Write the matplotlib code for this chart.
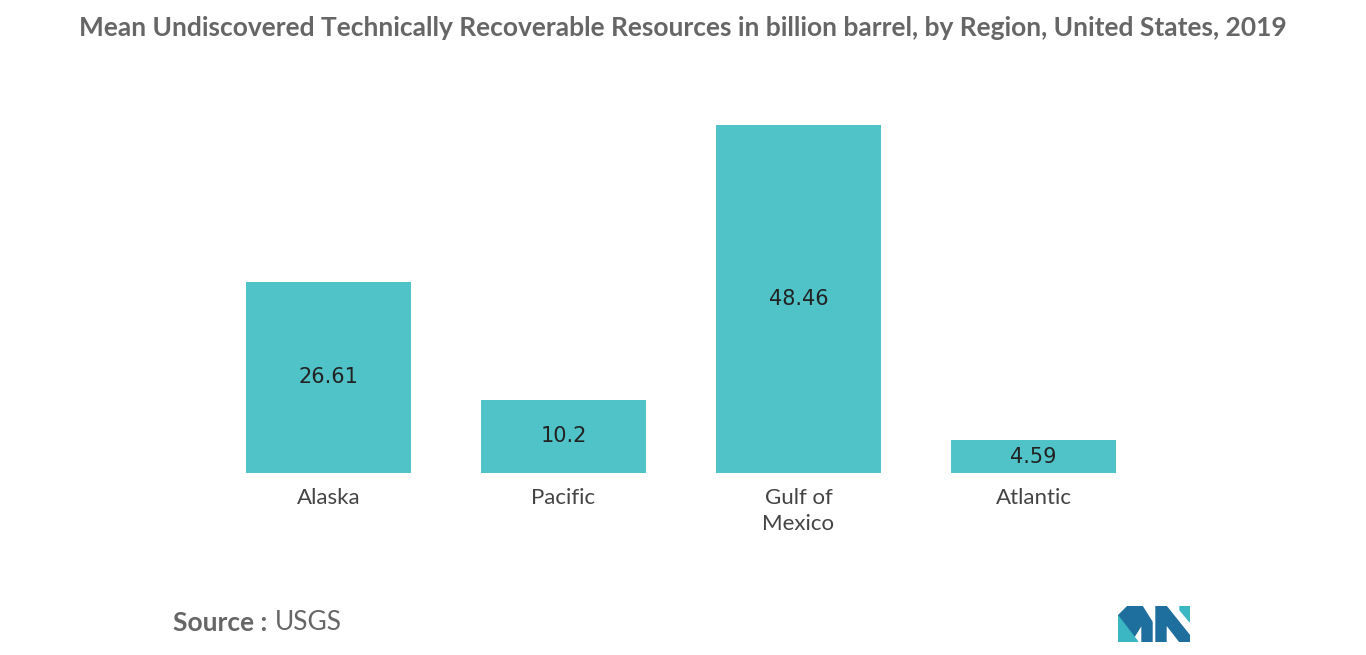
import matplotlib.pyplot as plt
from matplotlib.patches import Polygon

regions = ['Alaska', 'Pacific', 'Gulf of\nMexico', 'Atlantic']
values = [26.61, 10.2, 48.46, 4.59]
value_labels = ['26.61', '10.2', '48.46', '4.59']

plt.rcParams['font.family'] = ['Lato', 'DejaVu Sans']

fig = plt.figure(figsize=(13.66, 6.55), dpi=100)
ax = fig.add_axes([211 / 1366, 1 - 473 / 655, 940 / 1366, 348 / 655])

ax.bar(range(len(values)), values, width=165 / 235, color='#4fc3c8')
for i, (v, lab) in enumerate(zip(values, value_labels)):
    ax.text(i, v / 2, lab, ha='center', va='center', fontsize=15,
            color='#222222', family='DejaVu Sans')

ax.set_xlim(-0.5, 3.5)
ax.set_ylim(0, 48.46)
ax.set_yticks([])
ax.set_xticks(range(len(regions)))
ax.set_xticklabels(regions, fontsize=16, color='#444444', linespacing=1.35)
ax.tick_params(axis='x', length=0, pad=11)
for s in ax.spines.values():
    s.set_visible(False)

fig.text(0.5, 1 - 28 / 655, 'Mean Undiscovered Technically Recoverable Resources in billion barrel, by Region, United States, 2019',
         ha='center', va='center', fontsize=19, fontweight='bold', color='#666666')
fig.text(173 / 1366, 1 - 623 / 655, 'Source :', ha='left', va='center',
         fontsize=19, fontweight='bold', color='#666666')
fig.text(275 / 1366, 1 - 623 / 655, 'USGS', ha='left', va='center',
         fontsize=19, color='#666666')

# logo
lx = fig.add_axes([1118 / 1366, 1 - 642 / 655, 72 / 1366, 36 / 655])
lx.set_xlim(0, 72)
lx.set_ylim(0, 36)
lx.axis('off')
lx.add_patch(Polygon([(0, 0), (0, 26), (10, 36), (24, 36), (34, 20), (34, 0), (24, 0), (24, 18), (14, 2), (10, 0)], color='#1f6f9e'))
lx.add_patch(Polygon([(0, 0), (0, 26), (20, 0)], color='#3bb7c4'))
lx.add_patch(Polygon([(38, 0), (38, 36), (48, 36), (72, 6), (72, 0), (62, 0), (48, 18), (48, 0)], color='#1f6f9e'))
lx.add_patch(Polygon([(62, 36), (72, 36), (72, 20), (62, 32)], color='#3bb7c4'))

fig.savefig('out.png', dpi=100)
